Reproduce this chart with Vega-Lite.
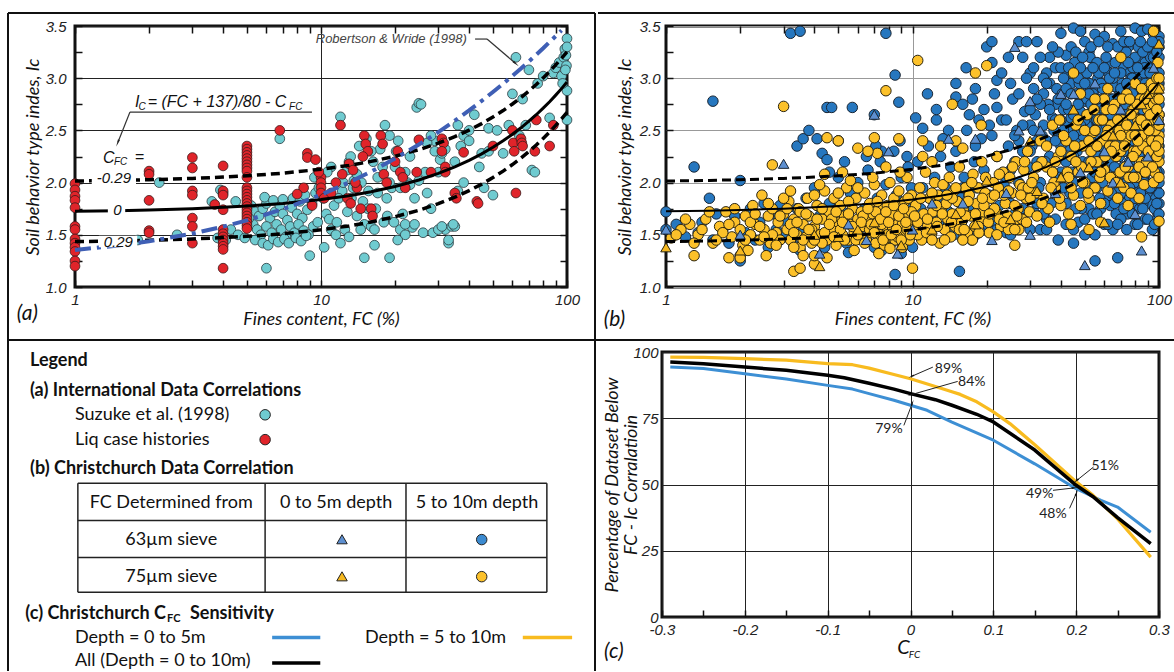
{
"$schema":"https://vega.github.io/schema/vega-lite/v6.json",
"background":"white",
"padding":{"left":5,"top":10,"right":0,"bottom":0},
"spacing":-6,
"resolve":{"scale":{"color":"independent","shape":"independent","size":"independent","strokeWidth":"independent"}},
"config":{"view":{"stroke":null},
 "axis":{"domain":false,"tickSize":-7,"tickColor":"#111","tickWidth":1.5,"labelFont":"Liberation Sans","labelFontStyle":"italic","labelFontSize":15,"labelColor":"#222","titleFont":"Lato","titleFontStyle":"italic","titleFontWeight":"normal","titleFontSize":18,"titleColor":"#111","gridColor":"#222","gridWidth":1}},
"datasets":{
"suzuki":[{"fc":5.2,"ic":1.78},{"fc":5.4,"ic":1.72},{"fc":5.6,"ic":1.68},{"fc":5.8,"ic":1.75},{"fc":6.0,"ic":1.8},{"fc":6.2,"ic":1.66},{"fc":6.5,"ic":1.72},{"fc":6.8,"ic":1.78},{"fc":7.0,"ic":1.7},{"fc":7.3,"ic":1.64},{"fc":7.6,"ic":1.76},{"fc":8.0,"ic":1.7},{"fc":8.4,"ic":1.66},{"fc":8.8,"ic":1.74},{"fc":9.2,"ic":1.8},{"fc":5.3,"ic":1.6},{"fc":5.5,"ic":1.55},{"fc":5.7,"ic":1.5},{"fc":6.0,"ic":1.58},{"fc":6.3,"ic":1.52},{"fc":6.6,"ic":1.6},{"fc":6.9,"ic":1.55},{"fc":7.2,"ic":1.48},{"fc":7.5,"ic":1.58},{"fc":7.8,"ic":1.52},{"fc":8.1,"ic":1.6},{"fc":8.5,"ic":1.54},{"fc":8.9,"ic":1.5},{"fc":9.3,"ic":1.58},{"fc":9.7,"ic":1.62},{"fc":5.4,"ic":1.45},{"fc":5.8,"ic":1.42},{"fc":6.1,"ic":1.4},{"fc":6.4,"ic":1.46},{"fc":6.7,"ic":1.43},{"fc":7.1,"ic":1.46},{"fc":7.4,"ic":1.42},{"fc":7.9,"ic":1.47},{"fc":8.3,"ic":1.44},{"fc":8.7,"ic":1.49},{"fc":9.0,"ic":1.3},{"fc":6.0,"ic":1.18},{"fc":5.1,"ic":1.66},{"fc":5.9,"ic":1.86},{"fc":6.4,"ic":1.83},{"fc":7.0,"ic":1.84},{"fc":7.7,"ic":1.85},{"fc":8.2,"ic":1.82},{"fc":8.6,"ic":1.88},{"fc":9.5,"ic":1.9},{"fc":6.8,"ic":2.42},{"fc":9.4,"ic":2.05},{"fc":9.8,"ic":1.95},{"fc":10.2,"ic":1.85},{"fc":10.5,"ic":1.7},{"fc":10.8,"ic":1.65},{"fc":11.0,"ic":1.55},{"fc":11.3,"ic":1.78},{"fc":11.6,"ic":1.62},{"fc":12.0,"ic":2.63},{"fc":12.2,"ic":1.92},{"fc":12.5,"ic":1.55},{"fc":12.8,"ic":1.72},{"fc":13.0,"ic":2.2},{"fc":13.3,"ic":1.85},{"fc":13.6,"ic":2.02},{"fc":14.0,"ic":1.68},{"fc":14.3,"ic":2.35},{"fc":14.6,"ic":2.0},{"fc":15.0,"ic":1.6},{"fc":15.3,"ic":2.42},{"fc":15.6,"ic":1.92},{"fc":16.0,"ic":1.58},{"fc":16.3,"ic":2.2},{"fc":16.7,"ic":1.75},{"fc":17.0,"ic":2.05},{"fc":17.4,"ic":2.32},{"fc":17.8,"ic":2.15},{"fc":18.2,"ic":2.55},{"fc":18.6,"ic":1.68},{"fc":19.0,"ic":2.45},{"fc":19.4,"ic":1.95},{"fc":19.8,"ic":1.62},{"fc":20.2,"ic":2.3},{"fc":20.6,"ic":2.4},{"fc":21.0,"ic":1.55},{"fc":21.5,"ic":1.7},{"fc":22.0,"ic":1.5},{"fc":22.5,"ic":2.0},{"fc":23.0,"ic":2.25},{"fc":23.5,"ic":1.57},{"fc":24.0,"ic":1.85},{"fc":24.5,"ic":2.72},{"fc":25.0,"ic":2.76},{"fc":25.5,"ic":2.75},{"fc":26.0,"ic":1.52},{"fc":26.5,"ic":2.1},{"fc":27.0,"ic":1.9},{"fc":28.0,"ic":1.75},{"fc":28.5,"ic":1.52},{"fc":29.0,"ic":2.4},{"fc":30.0,"ic":2.1},{"fc":30.5,"ic":2.22},{"fc":31.0,"ic":2.28},{"fc":32.0,"ic":1.55},{"fc":33.0,"ic":1.42},{"fc":34.0,"ic":1.58},{"fc":35.0,"ic":1.58},{"fc":36.0,"ic":1.92},{"fc":37.0,"ic":2.35},{"fc":38.0,"ic":2.45},{"fc":40.0,"ic":2.4},{"fc":42.0,"ic":2.65},{"fc":44.0,"ic":2.15},{"fc":46.0,"ic":1.95},{"fc":48.0,"ic":2.52},{"fc":50.0,"ic":1.88},{"fc":52.0,"ic":2.5},{"fc":55.0,"ic":2.28},{"fc":58.0,"ic":2.55},{"fc":60.0,"ic":2.85},{"fc":62.0,"ic":3.2},{"fc":64.0,"ic":2.45},{"fc":66.0,"ic":2.8},{"fc":68.0,"ic":2.55},{"fc":70.0,"ic":3.08},{"fc":72.0,"ic":2.12},{"fc":74.0,"ic":2.1},{"fc":76.0,"ic":2.95},{"fc":80.0,"ic":3.02},{"fc":85.0,"ic":2.62},{"fc":88.0,"ic":3.05},{"fc":90.0,"ic":3.1},{"fc":93.0,"ic":3.15},{"fc":95.0,"ic":3.02},{"fc":97.0,"ic":3.2},{"fc":98.0,"ic":3.28},{"fc":99.0,"ic":3.22},{"fc":100,"ic":3.38},{"fc":100,"ic":3.3},{"fc":99.5,"ic":3.12},{"fc":98.5,"ic":3.08},{"fc":100,"ic":2.88},{"fc":100,"ic":2.6},{"fc":96,"ic":2.95},{"fc":11.5,"ic":1.5},{"fc":13,"ic":1.48},{"fc":14.5,"ic":1.55},{"fc":16.5,"ic":1.4},{"fc":15,"ic":1.28},{"fc":19,"ic":1.28},{"fc":18,"ic":1.62},{"fc":12,"ic":1.42},{"fc":10.3,"ic":1.38},{"fc":20.5,"ic":1.45},{"fc":22,"ic":1.6},{"fc":16.5,"ic":1.55},{"fc":24,"ic":1.6},{"fc":30,"ic":1.55},{"fc":31,"ic":1.58},{"fc":34.5,"ic":1.6},{"fc":33,"ic":1.45},{"fc":2.2,"ic":2.0},{"fc":2.6,"ic":1.5},{"fc":1.8,"ic":1.45},{"fc":3.6,"ic":1.82},{"fc":3.9,"ic":1.93},{"fc":4.0,"ic":1.9},{"fc":4.3,"ic":1.55},{"fc":4.6,"ic":1.5},{"fc":3.8,"ic":1.47},{"fc":4.9,"ic":1.47},{"fc":4.1,"ic":1.45},{"fc":4.5,"ic":1.82},{"fc":13.5,"ic":1.95},{"fc":14,"ic":2.08},{"fc":14.8,"ic":1.82},{"fc":15.5,"ic":1.75},{"fc":12.8,"ic":2.12},{"fc":13.2,"ic":2.25},{"fc":11,"ic":2.15},{"fc":12.3,"ic":2.0},{"fc":11.8,"ic":1.85},{"fc":10.6,"ic":2.1},{"fc":16,"ic":2.3},{"fc":17,"ic":1.9},{"fc":18.5,"ic":1.85},{"fc":19,"ic":2.0},{"fc":20,"ic":2.15},{"fc":21,"ic":1.95},{"fc":22,"ic":2.1},{"fc":23,"ic":1.98},{"fc":25,"ic":2.02},{"fc":27,"ic":2.38},{"fc":28,"ic":2.45},{"fc":29,"ic":2.3},{"fc":32,"ic":2.32},{"fc":35,"ic":2.2},{"fc":36,"ic":2.55},{"fc":38,"ic":2.0},{"fc":40,"ic":2.5},{"fc":45,"ic":2.28},{"fc":48,"ic":2.3}],
"liq":[{"fc":1,"ic":1.99},{"fc":1,"ic":1.93},{"fc":1,"ic":1.87},{"fc":1,"ic":1.83},{"fc":1,"ic":1.76},{"fc":1,"ic":1.58},{"fc":1,"ic":1.55},{"fc":1,"ic":1.46},{"fc":1,"ic":1.42},{"fc":1,"ic":1.38},{"fc":1,"ic":1.34},{"fc":1,"ic":1.25},{"fc":1,"ic":1.2},{"fc":2,"ic":2.11},{"fc":2,"ic":2.08},{"fc":2,"ic":1.83},{"fc":2,"ic":1.54},{"fc":2,"ic":1.52},{"fc":3,"ic":2.24},{"fc":3,"ic":2.14},{"fc":3,"ic":1.92},{"fc":3,"ic":1.88},{"fc":3,"ic":1.66},{"fc":3,"ic":1.58},{"fc":3,"ic":1.42},{"fc":4,"ic":2.16},{"fc":4,"ic":1.92},{"fc":4,"ic":1.88},{"fc":4,"ic":1.74},{"fc":4,"ic":1.55},{"fc":4,"ic":1.51},{"fc":4,"ic":1.48},{"fc":4,"ic":1.45},{"fc":4,"ic":1.42},{"fc":4,"ic":1.39},{"fc":4,"ic":1.36},{"fc":4,"ic":1.18},{"fc":5,"ic":2.35},{"fc":5,"ic":2.32},{"fc":5,"ic":2.29},{"fc":5,"ic":2.26},{"fc":5,"ic":2.23},{"fc":5,"ic":2.2},{"fc":5,"ic":2.17},{"fc":5,"ic":2.14},{"fc":5,"ic":2.11},{"fc":5,"ic":2.05},{"fc":5,"ic":1.95},{"fc":5,"ic":1.92},{"fc":5,"ic":1.89},{"fc":5,"ic":1.86},{"fc":5,"ic":1.83},{"fc":5,"ic":1.8},{"fc":5,"ic":1.77},{"fc":5,"ic":1.74},{"fc":5,"ic":1.71},{"fc":5,"ic":1.68},{"fc":5,"ic":1.65},{"fc":5,"ic":1.62},{"fc":5,"ic":1.59},{"fc":5,"ic":1.56},{"fc":3.7,"ic":1.79},{"fc":6.8,"ic":2.5},{"fc":8.8,"ic":2.28},{"fc":8.8,"ic":2.24},{"fc":8.5,"ic":1.95},{"fc":8,"ic":1.89},{"fc":9.5,"ic":2.22},{"fc":10,"ic":2.05},{"fc":10,"ic":2.0},{"fc":10,"ic":1.95},{"fc":10,"ic":1.9},{"fc":10.3,"ic":1.85},{"fc":9.2,"ic":1.78},{"fc":12,"ic":2.55},{"fc":12.2,"ic":2.08},{"fc":13,"ic":2.18},{"fc":13.5,"ic":2.12},{"fc":14,"ic":1.95},{"fc":12.8,"ic":1.85},{"fc":13.2,"ic":1.8},{"fc":14.5,"ic":1.75},{"fc":15,"ic":2.45},{"fc":15.2,"ic":2.37},{"fc":15.5,"ic":2.3},{"fc":14.8,"ic":2.25},{"fc":16,"ic":1.75},{"fc":16.2,"ic":1.68},{"fc":17.5,"ic":2.45},{"fc":17.8,"ic":2.37},{"fc":18,"ic":2.08},{"fc":18.5,"ic":2.0},{"fc":20.5,"ic":2.3},{"fc":21,"ic":2.1},{"fc":21.5,"ic":2.05},{"fc":25,"ic":2.41},{"fc":24.5,"ic":2.1},{"fc":28,"ic":2.1},{"fc":31,"ic":2.42},{"fc":31.5,"ic":2.38},{"fc":31,"ic":2.3},{"fc":32,"ic":2.15},{"fc":32,"ic":2.1},{"fc":35,"ic":1.9},{"fc":35.5,"ic":1.85},{"fc":38,"ic":2.29},{"fc":43,"ic":1.82},{"fc":43.5,"ic":1.8},{"fc":50,"ic":2.35},{"fc":60,"ic":2.5},{"fc":60.5,"ic":2.38},{"fc":61,"ic":2.3},{"fc":62,"ic":1.9},{"fc":65,"ic":2.42},{"fc":65.5,"ic":2.38},{"fc":66,"ic":2.35},{"fc":75,"ic":2.6},{"fc":74,"ic":2.3},{"fc":85,"ic":2.35},{"fc":88,"ic":2.55},{"fc":11,"ic":1.9},{"fc":11.5,"ic":2.0},{"fc":9.8,"ic":2.1},{"fc":13.8,"ic":2.0},{"fc":22,"ic":1.95},{"fc":20,"ic":2.2}],
"icurves":[{"fc":1,"mid":1.725,"upper":2.015,"lower":1.435},{"fc":1.5,"mid":1.731,"upper":2.021,"lower":1.441},{"fc":2,"mid":1.738,"upper":2.028,"lower":1.448},{"fc":3,"mid":1.75,"upper":2.04,"lower":1.46},{"fc":4,"mid":1.763,"upper":2.053,"lower":1.473},{"fc":5,"mid":1.775,"upper":2.065,"lower":1.485},{"fc":7,"mid":1.8,"upper":2.09,"lower":1.51},{"fc":10,"mid":1.838,"upper":2.128,"lower":1.548},{"fc":13,"mid":1.875,"upper":2.165,"lower":1.585},{"fc":16,"mid":1.913,"upper":2.203,"lower":1.623},{"fc":20,"mid":1.963,"upper":2.253,"lower":1.673},{"fc":25,"mid":2.025,"upper":2.315,"lower":1.735},{"fc":30,"mid":2.088,"upper":2.378,"lower":1.798},{"fc":35,"mid":2.15,"upper":2.44,"lower":1.86},{"fc":40,"mid":2.213,"upper":2.503,"lower":1.923},{"fc":45,"mid":2.275,"upper":2.565,"lower":1.985},{"fc":50,"mid":2.338,"upper":2.628,"lower":2.048},{"fc":55,"mid":2.4,"upper":2.69,"lower":2.11},{"fc":60,"mid":2.463,"upper":2.753,"lower":2.173},{"fc":65,"mid":2.525,"upper":2.815,"lower":2.235},{"fc":70,"mid":2.588,"upper":2.878,"lower":2.298},{"fc":75,"mid":2.65,"upper":2.94,"lower":2.36},{"fc":80,"mid":2.713,"upper":3.003,"lower":2.423},{"fc":85,"mid":2.775,"upper":3.065,"lower":2.485},{"fc":90,"mid":2.838,"upper":3.128,"lower":2.548},{"fc":95,"mid":2.9,"upper":3.19,"lower":2.61},{"fc":100,"mid":2.963,"upper":3.253,"lower":2.673}],
"rw":[{"fc":1,"ic":1.355},{"fc":1.5,"ic":1.398},{"fc":2,"ic":1.438},{"fc":3,"ic":1.511},{"fc":4,"ic":1.578},{"fc":5,"ic":1.638},{"fc":7,"ic":1.746},{"fc":10,"ic":1.884},{"fc":13,"ic":2.002},{"fc":16,"ic":2.106},{"fc":20,"ic":2.23},{"fc":25,"ic":2.365},{"fc":30,"ic":2.484},{"fc":35,"ic":2.593},{"fc":40,"ic":2.691},{"fc":45,"ic":2.783},{"fc":50,"ic":2.868},{"fc":55,"ic":2.947},{"fc":60,"ic":3.023},{"fc":65,"ic":3.093},{"fc":70,"ic":3.161},{"fc":75,"ic":3.226},{"fc":80,"ic":3.287},{"fc":85,"ic":3.347},{"fc":90,"ic":3.403},{"fc":95,"ic":3.458}],
"a_boxes":[{"fc":1.17,"fc2":1.77,"ic":1.985,"ic2":2.1},{"fc":1.36,"fc2":1.6,"ic":1.68,"ic2":1.8},{"fc":1.25,"fc2":1.79,"ic":1.38,"ic2":1.49}],
"a_cfc":[{"fc":1.44,"ic":2.044,"text":"-0.29"},{"fc":1.488,"ic":1.738,"text":"0"},{"fc":1.5,"ic":1.434,"text":"0.29"}],
"a_eq":[{"fc":1.753,"ic":2.772,"text":"I"},{"fc":1.975,"ic":2.772,"text":"= (FC + 137)/80 - C"},{"fc":1.3,"ic":2.236,"text":"C"},{"fc":1.75,"ic":2.245,"text":"="}],
"a_sub":[{"fc":1.812,"ic":2.727,"text":"C"},{"fc":7.42,"ic":2.727,"text":"FC"},{"fc":1.44,"ic":2.197,"text":"FC"}],
"a_note":[{"fc":19.3,"ic":3.375,"text":"Robertson & Wride (1998)"}],
"a_leaders":[{"fc":42.3,"ic":3.375,"fc2":47.3,"ic2":3.375},{"fc":47.3,"ic":3.375,"fc2":61.5,"ic2":3.146},{"fc":9.19,"ic":2.676,"fc2":1.673,"ic2":2.676},{"fc":1.673,"ic":2.676,"fc2":1.496,"ic2":2.389}],
"a_heads":[{"fc":61.5,"ic":3.146,"angle":131},{"fc":1.496,"ic":2.389,"angle":202}],
"b63deep":[{"fc":1.0,"ic":1.72},{"fc":1.0,"ic":1.55},{"fc":1.3,"ic":2.15},{"fc":1.35,"ic":1.52},{"fc":1.5,"ic":1.85},{"fc":1.55,"ic":2.78},{"fc":1.55,"ic":1.45},{"fc":2.0,"ic":2.02},{"fc":2.0,"ic":1.25},{"fc":2.5,"ic":1.8},{"fc":3.2,"ic":3.43},{"fc":3.5,"ic":3.45},{"fc":3.4,"ic":2.35},{"fc":3.6,"ic":2.42},{"fc":3.8,"ic":2.5},{"fc":4.1,"ic":2.42},{"fc":4.3,"ic":2.28},{"fc":4.5,"ic":2.72},{"fc":4.7,"ic":2.72},{"fc":4.5,"ic":2.22},{"fc":5.0,"ic":2.4},{"fc":5.7,"ic":2.72},{"fc":6.5,"ic":2.25},{"fc":7,"ic":2.65},{"fc":7.5,"ic":2.3},{"fc":7.8,"ic":3.43},{"fc":8.5,"ic":3.03},{"fc":8.8,"ic":2.77},{"fc":8.5,"ic":1.12},{"fc":9.5,"ic":2.25},{"fc":10.3,"ic":2.62},{"fc":11,"ic":2.52},{"fc":11.5,"ic":2.85},{"fc":12.5,"ic":2.6},{"fc":13,"ic":2.25},{"fc":14,"ic":2.5},{"fc":15,"ic":2.82},{"fc":15.5,"ic":1.15},{"fc":17,"ic":2.65},{"fc":18,"ic":2.9},{"fc":19,"ic":2.42},{"fc":20,"ic":3.3},{"fc":21,"ic":3.35},{"fc":21,"ic":3.15},{"fc":22,"ic":2.98},{"fc":22,"ic":2.72},{"fc":25,"ic":2.95},{"fc":27,"ic":3.35},{"fc":28,"ic":3.2},{"fc":29,"ic":3.35},{"fc":32,"ic":3.35},{"fc":30,"ic":3.05},{"fc":35,"ic":3.05},{"fc":38,"ic":3.1},{"fc":40,"ic":3.43},{"fc":42,"ic":3.22},{"fc":45,"ic":3.48},{"fc":48,"ic":3.45},{"fc":50,"ic":3.35},{"fc":52,"ic":3.25},{"fc":55,"ic":3.42},{"fc":60,"ic":3.4},{"fc":63,"ic":3.15},{"fc":65,"ic":3.33},{"fc":70,"ic":3.45},{"fc":75,"ic":3.3},{"fc":80,"ic":3.48},{"fc":85,"ic":3.45},{"fc":90,"ic":3.47},{"fc":95,"ic":3.42},{"fc":100,"ic":3.4},{"fc":55,"ic":1.25},{"fc":68,"ic":1.28},{"fc":45,"ic":1.42},{"fc":30,"ic":1.55},{"fc":1.1,"ic":1.6},{"fc":1.2,"ic":1.48},{"fc":1.4,"ic":1.62},{"fc":1.6,"ic":1.7},{"fc":1.7,"ic":1.55},{"fc":1.8,"ic":1.42},{"fc":1.9,"ic":1.68},{"fc":2.1,"ic":1.52},{"fc":2.2,"ic":1.75},{"fc":2.3,"ic":1.45},{"fc":2.4,"ic":1.62},{"fc":2.6,"ic":1.38},{"fc":2.7,"ic":1.7},{"fc":2.8,"ic":1.55},{"fc":2.9,"ic":1.78},{"fc":3.0,"ic":1.48},{"fc":3.1,"ic":1.62},{"fc":3.3,"ic":1.4},{"fc":3.4,"ic":1.75},{"fc":3.6,"ic":1.55},{"fc":3.7,"ic":1.85},{"fc":3.9,"ic":1.45},{"fc":4.0,"ic":1.95},{"fc":4.2,"ic":1.68},{"fc":4.4,"ic":1.38},{"fc":4.6,"ic":1.8},{"fc":4.8,"ic":1.52},{"fc":5.0,"ic":2.05},{"fc":5.2,"ic":1.72},{"fc":5.4,"ic":1.42},{"fc":5.6,"ic":1.9},{"fc":5.8,"ic":1.6},{"fc":6.0,"ic":2.0},{"fc":4.6,"ic":2.1},{"fc":5.3,"ic":2.2},{"fc":6.2,"ic":1.48},{"fc":6.4,"ic":1.75},{"fc":6.6,"ic":2.12},{"fc":6.8,"ic":1.62},{"fc":7.0,"ic":1.38},{"fc":7.2,"ic":1.85},{"fc":7.4,"ic":2.2},{"fc":7.6,"ic":1.55},{"fc":7.8,"ic":1.98},{"fc":8.0,"ic":1.72},{"fc":8.2,"ic":1.42},{"fc":8.4,"ic":2.3},{"fc":8.6,"ic":1.88},{"fc":8.8,"ic":1.6},{"fc":9.0,"ic":2.05},{"fc":9.2,"ic":1.5},{"fc":9.4,"ic":1.8},{"fc":9.6,"ic":2.15},{"fc":9.8,"ic":1.68},{"fc":7.1,"ic":2.35},{"fc":8.9,"ic":2.4},{"fc":9.9,"ic":1.95},{"fc":10.2,"ic":1.55},{"fc":10.5,"ic":2.2},{"fc":10.8,"ic":1.75},{"fc":11.0,"ic":1.95},{"fc":11.3,"ic":1.48},{"fc":11.6,"ic":2.35},{"fc":12.0,"ic":1.68},{"fc":12.3,"ic":2.05},{"fc":12.6,"ic":1.85},{"fc":13.0,"ic":1.58},{"fc":13.3,"ic":2.42},{"fc":13.6,"ic":1.95},{"fc":14.0,"ic":1.72},{"fc":14.3,"ic":2.15},{"fc":14.7,"ic":1.5},{"fc":15.0,"ic":2.3},{"fc":15.4,"ic":1.88},{"fc":15.8,"ic":1.62},{"fc":16.2,"ic":2.05},{"fc":16.6,"ic":2.5},{"fc":17.0,"ic":1.78},{"fc":17.4,"ic":1.45},{"fc":17.8,"ic":2.2},{"fc":18.2,"ic":1.95},{"fc":18.6,"ic":2.6},{"fc":19.0,"ic":1.7},{"fc":19.5,"ic":2.12},{"fc":19.8,"ic":1.55},{"fc":12.5,"ic":2.7},{"fc":16,"ic":2.75},{"fc":18,"ic":2.35},{"fc":20.5,"ic":1.88},{"fc":21,"ic":2.45},{"fc":21.5,"ic":1.62},{"fc":22,"ic":2.25},{"fc":22.5,"ic":1.78},{"fc":23,"ic":2.6},{"fc":23.5,"ic":1.98},{"fc":24,"ic":1.52},{"fc":24.5,"ic":2.35},{"fc":25,"ic":2.12},{"fc":25.5,"ic":2.8},{"fc":26,"ic":1.7},{"fc":26.5,"ic":2.5},{"fc":27,"ic":2.0},{"fc":27.5,"ic":1.6},{"fc":28,"ic":2.3},{"fc":28.5,"ic":2.68},{"fc":29,"ic":1.85},{"fc":29.5,"ic":2.15},{"fc":30,"ic":2.55},{"fc":31,"ic":1.72},{"fc":32,"ic":2.4},{"fc":33,"ic":2.0},{"fc":34,"ic":2.85},{"fc":35,"ic":1.65},{"fc":36,"ic":2.25},{"fc":37,"ic":2.62},{"fc":38,"ic":1.9},{"fc":39,"ic":2.45},{"fc":40,"ic":2.1},{"fc":34,"ic":3.0},{"fc":36,"ic":2.95},{"fc":38,"ic":2.75},{"fc":31,"ic":2.9},{"fc":33,"ic":1.55},{"fc":39,"ic":1.45},{"fc":41,"ic":2.7},{"fc":42,"ic":1.8},{"fc":43,"ic":2.35},{"fc":44,"ic":2.95},{"fc":45,"ic":2.0},{"fc":46,"ic":2.55},{"fc":47,"ic":1.62},{"fc":48,"ic":2.8},{"fc":49,"ic":2.2},{"fc":50,"ic":2.45},{"fc":51,"ic":3.05},{"fc":52,"ic":1.75},{"fc":53,"ic":2.6},{"fc":54,"ic":2.3},{"fc":55,"ic":2.9},{"fc":56,"ic":1.95},{"fc":57,"ic":2.7},{"fc":58,"ic":2.15},{"fc":59,"ic":3.1},{"fc":60,"ic":2.5},{"fc":61,"ic":1.85},{"fc":62,"ic":2.78},{"fc":63,"ic":2.35},{"fc":64,"ic":3.0},{"fc":65,"ic":2.05},{"fc":66,"ic":2.6},{"fc":67,"ic":1.7},{"fc":68,"ic":2.9},{"fc":69,"ic":2.25},{"fc":70,"ic":2.75},{"fc":42,"ic":2.55},{"fc":44,"ic":2.62},{"fc":46,"ic":2.7},{"fc":48,"ic":2.68},{"fc":50,"ic":2.78},{"fc":52,"ic":2.6},{"fc":54,"ic":2.85},{"fc":56,"ic":2.4},{"fc":58,"ic":2.72},{"fc":60,"ic":2.9},{"fc":62,"ic":2.55},{"fc":64,"ic":2.8},{"fc":66,"ic":2.92},{"fc":68,"ic":2.7},{"fc":45,"ic":1.55},{"fc":50,"ic":1.65},{"fc":55,"ic":1.5},{"fc":60,"ic":1.6},{"fc":65,"ic":1.55},{"fc":71,"ic":2.4},{"fc":72,"ic":3.1},{"fc":73,"ic":1.9},{"fc":74,"ic":2.65},{"fc":75,"ic":2.95},{"fc":76,"ic":2.2},{"fc":77,"ic":2.8},{"fc":78,"ic":1.8},{"fc":79,"ic":3.05},{"fc":80,"ic":2.5},{"fc":81,"ic":2.85},{"fc":82,"ic":2.1},{"fc":83,"ic":3.2},{"fc":84,"ic":2.6},{"fc":85,"ic":1.95},{"fc":86,"ic":2.9},{"fc":87,"ic":2.35},{"fc":88,"ic":3.15},{"fc":89,"ic":2.7},{"fc":90,"ic":2.0},{"fc":91,"ic":3.0},{"fc":92,"ic":2.45},{"fc":93,"ic":3.25},{"fc":94,"ic":1.85},{"fc":95,"ic":2.8},{"fc":96,"ic":2.25},{"fc":97,"ic":3.1},{"fc":98,"ic":2.55},{"fc":99,"ic":1.7},{"fc":100,"ic":2.95},{"fc":100,"ic":2.35},{"fc":100,"ic":3.2},{"fc":100,"ic":1.8},{"fc":99,"ic":2.1},{"fc":98,"ic":2.85},{"fc":97,"ic":1.95},{"fc":96,"ic":3.3},{"fc":95,"ic":2.6},{"fc":94,"ic":2.4},{"fc":92,"ic":2.75},{"fc":90,"ic":2.9},{"fc":88,"ic":1.65},{"fc":86,"ic":2.5},{"fc":84,"ic":3.0},{"fc":82,"ic":2.7},{"fc":80,"ic":1.6},{"fc":78,"ic":2.55},{"fc":76,"ic":3.05},{"fc":74,"ic":2.3},{"fc":30.5,"ic":2.35},{"fc":31.5,"ic":2.65},{"fc":32.5,"ic":1.95},{"fc":33.5,"ic":2.45},{"fc":34.5,"ic":2.2},{"fc":35.5,"ic":2.75},{"fc":36.5,"ic":1.8},{"fc":37.5,"ic":2.5},{"fc":38.5,"ic":2.9},{"fc":39.5,"ic":2.05},{"fc":40.5,"ic":2.85},{"fc":41.5,"ic":2.25},{"fc":42.5,"ic":3.05},{"fc":43.5,"ic":1.9},{"fc":44.5,"ic":2.45},{"fc":45.5,"ic":3.15},{"fc":46.5,"ic":2.3},{"fc":47.5,"ic":2.95},{"fc":48.5,"ic":1.75},{"fc":49.5,"ic":2.6},{"fc":51.5,"ic":2.15},{"fc":52.5,"ic":3.2},{"fc":53.5,"ic":2.05},{"fc":54.5,"ic":2.65},{"fc":55.5,"ic":2.35},{"fc":56.5,"ic":3.0},{"fc":57.5,"ic":1.85},{"fc":58.5,"ic":2.5},{"fc":59.5,"ic":2.8},{"fc":61.5,"ic":2.25},{"fc":62.5,"ic":3.05},{"fc":63.5,"ic":1.78},{"fc":64.5,"ic":2.45},{"fc":65.5,"ic":2.7},{"fc":66.5,"ic":3.15},{"fc":67.5,"ic":2.0},{"fc":68.5,"ic":2.55},{"fc":69.5,"ic":2.85},{"fc":71.5,"ic":2.15},{"fc":72.5,"ic":2.6},{"fc":73.5,"ic":3.25},{"fc":74.5,"ic":1.7},{"fc":76.5,"ic":2.75},{"fc":77.5,"ic":2.35},{"fc":78.5,"ic":3.1},{"fc":79.5,"ic":2.0},{"fc":81.5,"ic":2.55},{"fc":82.5,"ic":3.3},{"fc":83.5,"ic":1.75},{"fc":84.5,"ic":2.4},{"fc":86.5,"ic":2.05},{"fc":87.5,"ic":3.1},{"fc":88.5,"ic":2.5},{"fc":89.5,"ic":1.9},{"fc":91.5,"ic":2.6},{"fc":92.5,"ic":3.2},{"fc":93.5,"ic":2.15},{"fc":94.5,"ic":2.95},{"fc":96.5,"ic":2.45},{"fc":97.5,"ic":3.35},{"fc":98.5,"ic":1.65},{"fc":99.5,"ic":2.75},{"fc":100,"ic":2.5},{"fc":100,"ic":3.05},{"fc":100,"ic":2.1},{"fc":100,"ic":1.9},{"fc":100,"ic":3.3},{"fc":2.0,"ic":1.3},{"fc":3.5,"ic":1.35},{"fc":5.5,"ic":1.33},{"fc":7.5,"ic":1.35},{"fc":9.0,"ic":1.32},{"fc":10,"ic":1.38},{"fc":30,"ic":2.7},{"fc":31,"ic":3.1},{"fc":32,"ic":2.2},{"fc":33,"ic":2.75},{"fc":34,"ic":1.7},{"fc":35,"ic":2.4},{"fc":36,"ic":3.2},{"fc":37,"ic":2.1},{"fc":38,"ic":2.6},{"fc":39,"ic":3.25},{"fc":40,"ic":2.35},{"fc":41,"ic":1.95},{"fc":42,"ic":2.9},{"fc":43,"ic":2.5},{"fc":44,"ic":3.3},{"fc":45,"ic":2.65},{"fc":46,"ic":2.1},{"fc":47,"ic":3.0},{"fc":48,"ic":2.4},{"fc":49,"ic":2.85},{"fc":50,"ic":2.15},{"fc":51,"ic":2.55},{"fc":52,"ic":2.95},{"fc":53,"ic":3.3},{"fc":54,"ic":1.95},{"fc":55,"ic":2.65},{"fc":56,"ic":3.15},{"fc":57,"ic":2.25},{"fc":58,"ic":2.95},{"fc":59,"ic":2.0},{"fc":60,"ic":2.7},{"fc":61,"ic":3.2},{"fc":62,"ic":2.1},{"fc":63,"ic":2.65},{"fc":64,"ic":2.2},{"fc":65,"ic":3.0},{"fc":66,"ic":2.3},{"fc":67,"ic":2.8},{"fc":68,"ic":3.3},{"fc":69,"ic":1.95},{"fc":70,"ic":2.5},{"fc":71,"ic":2.95},{"fc":72,"ic":2.3},{"fc":73,"ic":2.75},{"fc":74,"ic":3.35},{"fc":75,"ic":2.45},{"fc":76,"ic":1.85},{"fc":77,"ic":3.0},{"fc":78,"ic":2.25},{"fc":79,"ic":2.6},{"fc":80,"ic":3.2},{"fc":81,"ic":1.9},{"fc":82,"ic":2.4},{"fc":83,"ic":2.9},{"fc":84,"ic":2.15},{"fc":85,"ic":2.7},{"fc":86,"ic":3.25},{"fc":87,"ic":2.0},{"fc":88,"ic":2.45},{"fc":89,"ic":3.0},{"fc":90,"ic":2.55},{"fc":91,"ic":1.8},{"fc":92,"ic":2.35},{"fc":93,"ic":2.65},{"fc":94,"ic":3.1},{"fc":95,"ic":2.2},{"fc":96,"ic":2.9},{"fc":97,"ic":2.4},{"fc":98,"ic":3.15},{"fc":99,"ic":2.6},{"fc":100,"ic":2.75},{"fc":100,"ic":2.0},{"fc":100,"ic":3.35},{"fc":100,"ic":2.25},{"fc":99,"ic":2.95},{"fc":98,"ic":2.1},{"fc":97,"ic":2.65},{"fc":96,"ic":1.75},{"fc":95,"ic":3.2},{"fc":94,"ic":2.6},{"fc":93,"ic":1.95},{"fc":92,"ic":2.85},{"fc":91,"ic":2.25},{"fc":90,"ic":3.3},{"fc":89,"ic":2.1},{"fc":88,"ic":2.75},{"fc":87,"ic":3.05},{"fc":86,"ic":1.8},{"fc":85,"ic":2.3},{"fc":84,"ic":2.55},{"fc":83,"ic":2.25},{"fc":82,"ic":3.1},{"fc":81,"ic":2.45},{"fc":80,"ic":2.1},{"fc":79,"ic":2.4},{"fc":78,"ic":3.0},{"fc":77,"ic":2.1},{"fc":76,"ic":2.6},{"fc":75,"ic":3.15},{"fc":74,"ic":2.0},{"fc":73,"ic":2.5},{"fc":72,"ic":2.8},{"fc":71,"ic":1.8},{"fc":70,"ic":3.05},{"fc":69,"ic":2.4},{"fc":68,"ic":2.05},{"fc":67,"ic":2.5},{"fc":66,"ic":2.15},{"fc":65,"ic":2.8},{"fc":64,"ic":2.5},{"fc":63,"ic":3.0},{"fc":62,"ic":2.35},{"fc":61,"ic":2.55},{"fc":60,"ic":2.25},{"fc":59,"ic":2.6},{"fc":58,"ic":2.35},{"fc":57,"ic":3.05},{"fc":56,"ic":2.6},{"fc":55,"ic":2.1},{"fc":54,"ic":2.7},{"fc":53,"ic":2.4},{"fc":52,"ic":2.2},{"fc":51,"ic":2.8},{"fc":50,"ic":2.6},{"fc":49,"ic":2.45},{"fc":48,"ic":3.1},{"fc":47,"ic":2.5},{"fc":46,"ic":2.85},{"fc":45,"ic":2.25},{"fc":44,"ic":2.1},{"fc":43,"ic":2.7},{"fc":42,"ic":2.2},{"fc":41,"ic":3.0},{"fc":40,"ic":2.6},{"fc":20,"ic":1.6},{"fc":22,"ic":1.9},{"fc":24,"ic":2.05},{"fc":26,"ic":2.2},{"fc":28,"ic":1.75},{"fc":18,"ic":1.5},{"fc":16,"ic":1.95},{"fc":14,"ic":1.6},{"fc":25,"ic":1.5},{"fc":27,"ic":2.4},{"fc":15,"ic":2.95},{"fc":16.5,"ic":3.1},{"fc":17.5,"ic":2.8},{"fc":19.5,"ic":2.7},{"fc":20.5,"ic":2.55},{"fc":21.5,"ic":2.85},{"fc":23,"ic":3.05},{"fc":24,"ic":2.6},{"fc":24.5,"ic":3.2},{"fc":26,"ic":2.45},{"fc":27,"ic":2.85},{"fc":28,"ic":2.55},{"fc":29,"ic":3.0},{"fc":30,"ic":2.3},{"fc":31,"ic":2.5},{"fc":32,"ic":2.8},{"fc":33,"ic":3.2},{"fc":34,"ic":2.55},{"fc":35,"ic":2.95},{"fc":36,"ic":2.7},{"fc":37,"ic":3.3},{"fc":38,"ic":2.4},{"fc":39,"ic":2.8},{"fc":40,"ic":3.1},{"fc":41,"ic":2.5},{"fc":42,"ic":2.75},{"fc":43,"ic":3.1},{"fc":44,"ic":2.85},{"fc":45,"ic":2.45},{"fc":46,"ic":3.25},{"fc":47,"ic":2.75},{"fc":48,"ic":2.55},{"fc":49,"ic":3.2},{"fc":50,"ic":2.95},{"fc":51,"ic":2.35},{"fc":52,"ic":2.85},{"fc":53,"ic":2.75},{"fc":54,"ic":3.1},{"fc":55,"ic":2.5},{"fc":56,"ic":2.8},{"fc":57,"ic":3.35},{"fc":58,"ic":2.6},{"fc":59,"ic":2.9},{"fc":60,"ic":3.1},{"fc":62,"ic":3.3},{"fc":64,"ic":2.65},{"fc":66,"ic":3.05},{"fc":68,"ic":2.4},{"fc":70,"ic":2.9},{"fc":72,"ic":3.35},{"fc":74,"ic":2.95},{"fc":76,"ic":3.35},{"fc":78,"ic":2.85},{"fc":80,"ic":2.7},{"fc":82,"ic":2.95},{"fc":84,"ic":3.35},{"fc":86,"ic":2.7},{"fc":88,"ic":2.95},{"fc":90,"ic":2.6},{"fc":92,"ic":3.05},{"fc":94,"ic":3.35},{"fc":96,"ic":2.75},{"fc":98,"ic":3.25},{"fc":100,"ic":2.65},{"fc":20,"ic":1.7},{"fc":22,"ic":1.55},{"fc":25,"ic":1.8},{"fc":28,"ic":1.65},{"fc":32,"ic":1.8},{"fc":35,"ic":1.55},{"fc":38,"ic":1.65},{"fc":42,"ic":1.6},{"fc":46,"ic":1.75},{"fc":50,"ic":1.5},{"fc":54,"ic":1.7},{"fc":58,"ic":1.75},{"fc":62,"ic":1.6},{"fc":66,"ic":1.8},{"fc":70,"ic":1.65},{"fc":74,"ic":1.55},{"fc":78,"ic":1.7},{"fc":82,"ic":1.6},{"fc":86,"ic":1.75},{"fc":90,"ic":1.65},{"fc":94,"ic":1.55},{"fc":98,"ic":1.8},{"fc":100,"ic":1.7},{"fc":96,"ic":1.6},{"fc":92,"ic":1.95},{"fc":88,"ic":1.85},{"fc":84,"ic":1.9},{"fc":80,"ic":1.85},{"fc":76,"ic":1.95},{"fc":72,"ic":1.75},{"fc":68,"ic":1.6},{"fc":64,"ic":1.9},{"fc":60,"ic":1.8},{"fc":56,"ic":1.7},{"fc":52,"ic":1.95},{"fc":48,"ic":1.9}],
"b75deep":[{"fc":3.0,"ic":2.73},{"fc":3.3,"ic":1.15},{"fc":3.5,"ic":1.18},{"fc":4.0,"ic":1.22},{"fc":4.5,"ic":2.43},{"fc":5,"ic":2.4},{"fc":6,"ic":2.33},{"fc":7,"ic":2.43},{"fc":7.8,"ic":2.88},{"fc":8.8,"ic":2.42},{"fc":10.5,"ic":3.17},{"fc":10,"ic":1.18},{"fc":11,"ic":2.4},{"fc":12,"ic":2.2},{"fc":14.5,"ic":2.75},{"fc":15,"ic":2.4},{"fc":16,"ic":2.33},{"fc":18,"ic":3.05},{"fc":20,"ic":3.12},{"fc":19,"ic":2.55},{"fc":22,"ic":2.25},{"fc":26,"ic":1.4},{"fc":45,"ic":3.05},{"fc":60,"ic":2.8},{"fc":70,"ic":3.2},{"fc":85,"ic":1.48},{"fc":95,"ic":3.45},{"fc":100,"ic":1.63},{"fc":2.0,"ic":1.28},{"fc":1.8,"ic":1.28},{"fc":1.3,"ic":1.3},{"fc":2.7,"ic":2.17},{"fc":1.05,"ic":1.47},{"fc":1.15,"ic":1.55},{"fc":1.25,"ic":1.6},{"fc":1.35,"ic":1.5},{"fc":1.45,"ic":1.65},{"fc":1.55,"ic":1.42},{"fc":1.65,"ic":1.58},{"fc":1.75,"ic":1.72},{"fc":1.85,"ic":1.48},{"fc":1.9,"ic":1.62},{"fc":2.0,"ic":1.55},{"fc":2.05,"ic":1.4},{"fc":2.1,"ic":1.68},{"fc":2.2,"ic":1.5},{"fc":2.25,"ic":1.78},{"fc":2.3,"ic":1.6},{"fc":2.4,"ic":1.45},{"fc":2.45,"ic":1.88},{"fc":2.5,"ic":1.55},{"fc":2.6,"ic":1.68},{"fc":2.65,"ic":1.42},{"fc":2.7,"ic":1.75},{"fc":2.8,"ic":1.52},{"fc":2.85,"ic":1.62},{"fc":2.9,"ic":1.45},{"fc":3.0,"ic":1.7},{"fc":2.15,"ic":1.35},{"fc":2.55,"ic":1.3},{"fc":3.1,"ic":1.55},{"fc":3.15,"ic":1.82},{"fc":3.2,"ic":1.45},{"fc":3.3,"ic":1.65},{"fc":3.4,"ic":1.5},{"fc":3.45,"ic":1.75},{"fc":3.5,"ic":1.38},{"fc":3.6,"ic":1.6},{"fc":3.7,"ic":1.48},{"fc":3.75,"ic":1.85},{"fc":3.8,"ic":1.68},{"fc":3.9,"ic":1.42},{"fc":4.0,"ic":1.58},{"fc":4.1,"ic":1.78},{"fc":4.2,"ic":1.5},{"fc":4.3,"ic":1.65},{"fc":4.4,"ic":1.92},{"fc":4.5,"ic":1.45},{"fc":4.6,"ic":1.72},{"fc":4.7,"ic":1.55},{"fc":4.8,"ic":1.85},{"fc":4.9,"ic":1.4},{"fc":5.0,"ic":1.62},{"fc":5.1,"ic":1.78},{"fc":5.2,"ic":1.5},{"fc":5.3,"ic":1.68},{"fc":5.4,"ic":1.95},{"fc":5.5,"ic":1.45},{"fc":5.6,"ic":1.6},{"fc":5.7,"ic":1.75},{"fc":5.8,"ic":1.52},{"fc":5.9,"ic":1.85},{"fc":6.0,"ic":1.65},{"fc":4.4,"ic":2.08},{"fc":5.2,"ic":2.1},{"fc":4.0,"ic":1.3},{"fc":4.5,"ic":1.28},{"fc":3.6,"ic":1.3},{"fc":6.1,"ic":1.48},{"fc":6.2,"ic":1.72},{"fc":6.3,"ic":1.58},{"fc":6.4,"ic":1.9},{"fc":6.5,"ic":1.45},{"fc":6.6,"ic":1.65},{"fc":6.7,"ic":1.8},{"fc":6.8,"ic":1.52},{"fc":6.9,"ic":1.7},{"fc":7.0,"ic":1.98},{"fc":7.1,"ic":1.42},{"fc":7.2,"ic":1.6},{"fc":7.3,"ic":1.75},{"fc":7.4,"ic":1.5},{"fc":7.5,"ic":1.88},{"fc":7.6,"ic":1.65},{"fc":7.7,"ic":1.4},{"fc":7.8,"ic":1.58},{"fc":7.9,"ic":1.78},{"fc":8.0,"ic":1.48},{"fc":8.1,"ic":2.0},{"fc":8.2,"ic":1.68},{"fc":8.3,"ic":1.55},{"fc":8.4,"ic":1.85},{"fc":8.5,"ic":1.45},{"fc":8.6,"ic":1.72},{"fc":8.7,"ic":1.6},{"fc":8.8,"ic":1.92},{"fc":8.9,"ic":1.5},{"fc":9.0,"ic":1.78},{"fc":9.1,"ic":1.38},{"fc":9.2,"ic":1.65},{"fc":9.3,"ic":1.82},{"fc":9.4,"ic":1.52},{"fc":9.5,"ic":2.05},{"fc":9.6,"ic":1.7},{"fc":9.7,"ic":1.45},{"fc":9.8,"ic":1.6},{"fc":9.9,"ic":1.88},{"fc":7.8,"ic":2.15},{"fc":7.2,"ic":2.28},{"fc":6.6,"ic":2.3},{"fc":10.1,"ic":1.55},{"fc":10.3,"ic":1.78},{"fc":10.5,"ic":1.62},{"fc":10.7,"ic":1.95},{"fc":10.9,"ic":1.45},{"fc":11.1,"ic":1.7},{"fc":11.3,"ic":2.1},{"fc":11.5,"ic":1.58},{"fc":11.7,"ic":1.85},{"fc":11.9,"ic":1.5},{"fc":12.1,"ic":1.72},{"fc":12.3,"ic":2.0},{"fc":12.5,"ic":1.62},{"fc":12.7,"ic":1.88},{"fc":12.9,"ic":1.42},{"fc":13.1,"ic":1.75},{"fc":13.3,"ic":1.98},{"fc":13.5,"ic":1.55},{"fc":13.7,"ic":1.8},{"fc":13.9,"ic":1.65},{"fc":14.1,"ic":2.05},{"fc":14.3,"ic":1.48},{"fc":14.5,"ic":1.7},{"fc":14.7,"ic":1.92},{"fc":14.9,"ic":1.58},{"fc":15.2,"ic":1.82},{"fc":15.5,"ic":2.15},{"fc":15.8,"ic":1.62},{"fc":16.1,"ic":1.75},{"fc":16.4,"ic":1.95},{"fc":16.7,"ic":1.52},{"fc":17.0,"ic":1.88},{"fc":17.3,"ic":1.68},{"fc":17.6,"ic":2.08},{"fc":17.9,"ic":1.58},{"fc":18.2,"ic":1.8},{"fc":18.5,"ic":1.95},{"fc":18.8,"ic":1.65},{"fc":19.1,"ic":2.2},{"fc":19.4,"ic":1.72},{"fc":19.7,"ic":1.9},{"fc":11,"ic":2.25},{"fc":13,"ic":2.35},{"fc":20.3,"ic":1.62},{"fc":20.8,"ic":1.85},{"fc":21.3,"ic":2.0},{"fc":21.8,"ic":1.72},{"fc":22.3,"ic":1.95},{"fc":22.8,"ic":1.58},{"fc":23.3,"ic":2.1},{"fc":23.8,"ic":1.8},{"fc":24.3,"ic":1.68},{"fc":24.8,"ic":2.05},{"fc":25.3,"ic":1.9},{"fc":25.8,"ic":1.6},{"fc":26.3,"ic":2.2},{"fc":26.8,"ic":1.75},{"fc":27.3,"ic":1.98},{"fc":27.8,"ic":1.65},{"fc":28.3,"ic":2.12},{"fc":28.8,"ic":1.85},{"fc":29.3,"ic":2.3},{"fc":29.8,"ic":1.72},{"fc":31,"ic":2.05},{"fc":32,"ic":1.68},{"fc":33,"ic":2.4},{"fc":34,"ic":1.85},{"fc":35,"ic":2.15},{"fc":36,"ic":1.62},{"fc":37,"ic":2.55},{"fc":38,"ic":1.95},{"fc":39,"ic":2.25},{"fc":40,"ic":1.78},{"fc":31.5,"ic":1.9},{"fc":33.5,"ic":2.2},{"fc":35.5,"ic":1.75},{"fc":37.5,"ic":2.0},{"fc":39.5,"ic":2.6},{"fc":41,"ic":2.05},{"fc":42,"ic":2.4},{"fc":43,"ic":1.7},{"fc":44,"ic":2.25},{"fc":45,"ic":1.88},{"fc":46,"ic":2.55},{"fc":47,"ic":2.1},{"fc":48,"ic":1.78},{"fc":49,"ic":2.35},{"fc":50,"ic":2.0},{"fc":51,"ic":2.65},{"fc":52,"ic":1.85},{"fc":53,"ic":2.3},{"fc":54,"ic":2.48},{"fc":55,"ic":1.95},{"fc":56,"ic":2.2},{"fc":57,"ic":2.6},{"fc":58,"ic":1.8},{"fc":59,"ic":2.4},{"fc":60,"ic":2.12},{"fc":61,"ic":2.7},{"fc":62,"ic":1.92},{"fc":63,"ic":2.35},{"fc":64,"ic":2.55},{"fc":65,"ic":2.05},{"fc":66,"ic":2.75},{"fc":67,"ic":2.25},{"fc":68,"ic":1.85},{"fc":69,"ic":2.5},{"fc":70,"ic":2.3},{"fc":44,"ic":1.6},{"fc":52,"ic":1.55},{"fc":58,"ic":1.62},{"fc":48,"ic":2.85},{"fc":55,"ic":2.8},{"fc":62,"ic":2.9},{"fc":71,"ic":2.6},{"fc":72,"ic":1.95},{"fc":73,"ic":2.4},{"fc":74,"ic":2.85},{"fc":75,"ic":2.15},{"fc":76,"ic":2.5},{"fc":77,"ic":1.9},{"fc":78,"ic":2.7},{"fc":79,"ic":2.3},{"fc":80,"ic":2.95},{"fc":81,"ic":2.05},{"fc":82,"ic":2.6},{"fc":83,"ic":2.35},{"fc":84,"ic":2.8},{"fc":85,"ic":2.2},{"fc":86,"ic":2.55},{"fc":87,"ic":1.98},{"fc":88,"ic":2.9},{"fc":89,"ic":2.4},{"fc":90,"ic":2.7},{"fc":91,"ic":2.15},{"fc":92,"ic":2.5},{"fc":93,"ic":2.95},{"fc":94,"ic":2.3},{"fc":95,"ic":2.75},{"fc":96,"ic":2.1},{"fc":97,"ic":2.55},{"fc":98,"ic":3.0},{"fc":99,"ic":2.35},{"fc":100,"ic":2.65},{"fc":100,"ic":2.2},{"fc":100,"ic":2.9},{"fc":100,"ic":2.45},{"fc":99,"ic":3.15},{"fc":98,"ic":2.25},{"fc":97,"ic":2.8},{"fc":96,"ic":2.6},{"fc":95,"ic":2.0},{"fc":93,"ic":2.45},{"fc":91,"ic":2.85},{"fc":89,"ic":2.2},{"fc":87,"ic":2.6},{"fc":85,"ic":2.45},{"fc":83,"ic":1.85},{"fc":81,"ic":2.3},{"fc":79,"ic":2.7},{"fc":77,"ic":2.45},{"fc":75,"ic":1.78},{"fc":1.3,"ic":1.42},{"fc":1.7,"ic":1.52},{"fc":2.2,"ic":1.62},{"fc":2.7,"ic":1.5},{"fc":3.2,"ic":1.6},{"fc":3.5,"ic":1.72},{"fc":3.9,"ic":1.55},{"fc":4.3,"ic":1.42},{"fc":4.7,"ic":1.65},{"fc":5.1,"ic":1.55},{"fc":5.5,"ic":1.7},{"fc":5.9,"ic":1.45},{"fc":6.3,"ic":1.68},{"fc":6.7,"ic":1.55},{"fc":7.1,"ic":1.72},{"fc":7.5,"ic":1.6},{"fc":7.9,"ic":1.5},{"fc":8.3,"ic":1.7},{"fc":8.7,"ic":1.48},{"fc":9.1,"ic":1.6},{"fc":9.5,"ic":1.55},{"fc":9.9,"ic":1.72},{"fc":3.0,"ic":1.85},{"fc":4.0,"ic":1.88},{"fc":5.0,"ic":1.9},{"fc":6.0,"ic":1.95},{"fc":3.3,"ic":1.38},{"fc":5.8,"ic":1.35},{"fc":7.3,"ic":1.32},{"fc":8.1,"ic":1.37},{"fc":10.5,"ic":1.5},{"fc":11.5,"ic":1.65},{"fc":12.5,"ic":1.78},{"fc":13.5,"ic":1.45},{"fc":14.5,"ic":1.85},{"fc":15.5,"ic":1.55},{"fc":16.5,"ic":1.68},{"fc":17.5,"ic":1.45},{"fc":18.5,"ic":1.58},{"fc":19.5,"ic":1.78},{"fc":20.5,"ic":1.52},{"fc":21.5,"ic":1.75},{"fc":22.5,"ic":1.65},{"fc":23.5,"ic":1.88},{"fc":24.5,"ic":1.55},{"fc":26,"ic":1.78},{"fc":27,"ic":1.55},{"fc":28,"ic":1.95},{"fc":29,"ic":1.62},{"fc":30,"ic":1.85},{"fc":1.1,"ic":1.5},{"fc":1.2,"ic":1.65},{"fc":1.4,"ic":1.55},{"fc":1.5,"ic":1.72},{"fc":1.6,"ic":1.45},{"fc":1.8,"ic":1.6},{"fc":1.9,"ic":1.75},{"fc":2.1,"ic":1.45},{"fc":2.3,"ic":1.7},{"fc":2.4,"ic":1.58},{"fc":2.5,"ic":1.48},{"fc":2.6,"ic":1.8},{"fc":2.8,"ic":1.4},{"fc":2.9,"ic":1.68},{"fc":3.1,"ic":1.75},{"fc":3.3,"ic":1.52},{"fc":3.4,"ic":1.62},{"fc":3.6,"ic":1.45},{"fc":3.7,"ic":1.7},{"fc":3.8,"ic":1.55},{"fc":4.0,"ic":1.45},{"fc":4.1,"ic":1.65},{"fc":4.3,"ic":1.75},{"fc":4.4,"ic":1.52},{"fc":4.6,"ic":1.6},{"fc":4.8,"ic":1.48},{"fc":4.9,"ic":1.72},{"fc":5.2,"ic":1.62},{"fc":5.3,"ic":1.45},{"fc":5.5,"ic":1.82},{"fc":5.7,"ic":1.58},{"fc":6.0,"ic":1.5},{"fc":6.2,"ic":1.62},{"fc":6.4,"ic":1.42},{"fc":6.6,"ic":1.75},{"fc":6.8,"ic":1.6},{"fc":7.0,"ic":1.52},{"fc":7.2,"ic":1.82},{"fc":7.4,"ic":1.65},{"fc":7.6,"ic":1.45},{"fc":7.8,"ic":1.72},{"fc":8.0,"ic":1.62},{"fc":8.2,"ic":1.5},{"fc":8.4,"ic":1.78},{"fc":8.6,"ic":1.55},{"fc":8.8,"ic":1.68},{"fc":9.0,"ic":1.45},{"fc":9.2,"ic":1.75},{"fc":9.4,"ic":1.62},{"fc":9.6,"ic":1.85},{"fc":9.8,"ic":1.5},{"fc":3.2,"ic":1.92},{"fc":4.2,"ic":1.98},{"fc":5.6,"ic":2.02},{"fc":6.9,"ic":2.05},{"fc":8.9,"ic":2.1},{"fc":10.2,"ic":1.68},{"fc":10.8,"ic":1.85},{"fc":11.4,"ic":1.52},{"fc":12.0,"ic":1.9},{"fc":12.6,"ic":1.58},{"fc":13.2,"ic":1.7},{"fc":13.8,"ic":1.88},{"fc":14.4,"ic":1.62},{"fc":15.0,"ic":1.95},{"fc":15.6,"ic":1.72},{"fc":16.2,"ic":1.55},{"fc":16.8,"ic":1.82},{"fc":17.4,"ic":2.0},{"fc":18.0,"ic":1.7},{"fc":18.6,"ic":1.52},{"fc":19.2,"ic":1.85},{"fc":19.8,"ic":2.05},{"fc":20.5,"ic":1.7},{"fc":21.5,"ic":1.88},{"fc":22.5,"ic":2.08},{"fc":23.5,"ic":1.62},{"fc":24.5,"ic":1.92},{"fc":25.5,"ic":2.15},{"fc":26.5,"ic":1.68},{"fc":27.5,"ic":1.88},{"fc":28.5,"ic":2.2},{"fc":29.5,"ic":1.95},{"fc":12,"ic":1.45},{"fc":16,"ic":1.45},{"fc":22,"ic":1.5},{"fc":26,"ic":1.55},{"fc":30.5,"ic":2.0},{"fc":32,"ic":2.15},{"fc":33.5,"ic":1.8},{"fc":35,"ic":2.35},{"fc":36.5,"ic":1.95},{"fc":38,"ic":2.2},{"fc":39.5,"ic":1.85},{"fc":41,"ic":2.45},{"fc":42.5,"ic":2.1},{"fc":44,"ic":1.95},{"fc":45.5,"ic":2.35},{"fc":47,"ic":2.6},{"fc":48.5,"ic":2.15},{"fc":50,"ic":2.5},{"fc":51.5,"ic":1.9},{"fc":53,"ic":2.2},{"fc":54.5,"ic":2.7},{"fc":56,"ic":2.35},{"fc":57.5,"ic":2.05},{"fc":59,"ic":2.6},{"fc":60.5,"ic":2.25},{"fc":62,"ic":2.5},{"fc":63.5,"ic":2.05},{"fc":65,"ic":2.7},{"fc":66.5,"ic":2.35},{"fc":68,"ic":2.6},{"fc":69.5,"ic":2.1},{"fc":71,"ic":2.8},{"fc":72.5,"ic":2.35},{"fc":74,"ic":2.55},{"fc":75.5,"ic":2.05},{"fc":77,"ic":2.65},{"fc":78.5,"ic":2.25},{"fc":80,"ic":2.45},{"fc":81.5,"ic":2.75},{"fc":83,"ic":2.15},{"fc":84.5,"ic":2.6},{"fc":86,"ic":2.35},{"fc":87.5,"ic":2.8},{"fc":89,"ic":2.55},{"fc":90.5,"ic":2.3},{"fc":92,"ic":2.65},{"fc":93.5,"ic":2.4},{"fc":95,"ic":2.9},{"fc":96.5,"ic":2.5},{"fc":98,"ic":2.7},{"fc":99.5,"ic":2.4},{"fc":100,"ic":2.8},{"fc":100,"ic":2.55},{"fc":100,"ic":2.3},{"fc":100,"ic":2.05},{"fc":100,"ic":3.0},{"fc":99,"ic":2.6},{"fc":97,"ic":2.35},{"fc":94,"ic":2.15},{"fc":91,"ic":2.5},{"fc":88,"ic":2.1},{"fc":85,"ic":2.9},{"fc":82,"ic":2.4},{"fc":79,"ic":2.05},{"fc":76,"ic":2.8},{"fc":73,"ic":2.15},{"fc":70,"ic":2.45},{"fc":67,"ic":2.0},{"fc":64,"ic":2.3},{"fc":61,"ic":2.45},{"fc":58,"ic":2.1},{"fc":55,"ic":2.5},{"fc":52,"ic":2.4},{"fc":49,"ic":2.0},{"fc":46,"ic":2.2},{"fc":43,"ic":2.05},{"fc":40,"ic":2.3},{"fc":37,"ic":2.1}],
"b63shallow":[{"fc":1.0,"ic":1.55},{"fc":2.0,"ic":1.5},{"fc":3.0,"ic":2.18},{"fc":4.2,"ic":1.32},{"fc":7.0,"ic":2.65},{"fc":8.0,"ic":2.3},{"fc":8.7,"ic":1.32},{"fc":14,"ic":2.42},{"fc":18,"ic":2.42},{"fc":21,"ic":1.45},{"fc":26,"ic":3.3},{"fc":27,"ic":2.5},{"fc":30,"ic":1.5},{"fc":30,"ic":2.78},{"fc":33,"ic":2.5},{"fc":40,"ic":2.85},{"fc":45,"ic":2.85},{"fc":50,"ic":1.21},{"fc":55,"ic":2.95},{"fc":60,"ic":2.3},{"fc":65,"ic":2.0},{"fc":70,"ic":2.7},{"fc":75,"ic":2.2},{"fc":80,"ic":1.7},{"fc":85,"ic":1.35},{"fc":90,"ic":2.25},{"fc":95,"ic":3.1},{"fc":100,"ic":2.6},{"fc":38,"ic":1.9},{"fc":48,"ic":2.1},{"fc":12,"ic":1.8},{"fc":5.5,"ic":1.6},{"fc":6.5,"ic":1.45},{"fc":10,"ic":1.55},{"fc":16,"ic":1.8},{"fc":24,"ic":1.9}],
"b75shallow":[{"fc":1.0,"ic":1.38},{"fc":2.0,"ic":1.35},{"fc":4.2,"ic":1.2},{"fc":4,"ic":1.5},{"fc":5,"ic":1.48},{"fc":6,"ic":1.55},{"fc":7,"ic":1.62},{"fc":9,"ic":1.4},{"fc":20,"ic":2.02},{"fc":25,"ic":1.65},{"fc":32,"ic":1.92},{"fc":40,"ic":2.05},{"fc":45,"ic":2.7},{"fc":52,"ic":2.15},{"fc":60,"ic":1.62},{"fc":65,"ic":2.45},{"fc":70,"ic":2.0},{"fc":80,"ic":2.55},{"fc":90,"ic":2.85},{"fc":100,"ic":3.33},{"fc":100,"ic":2.9},{"fc":85,"ic":2.75},{"fc":30,"ic":2.4},{"fc":15,"ic":1.7},{"fc":12,"ic":1.55},{"fc":18,"ic":1.6}],
"cfc":[{"depth":"0 to 5m","cfc":-0.29,"pct":94.3},{"depth":"0 to 5m","cfc":-0.25,"pct":93.8},{"depth":"0 to 5m","cfc":-0.2,"pct":91.8},{"depth":"0 to 5m","cfc":-0.15,"pct":89.8},{"depth":"0 to 5m","cfc":-0.1,"pct":87.4},{"depth":"0 to 5m","cfc":-0.07,"pct":86},{"depth":"0 to 5m","cfc":-0.05,"pct":84.3},{"depth":"0 to 5m","cfc":-0.02,"pct":81.8},{"depth":"0 to 5m","cfc":0,"pct":79.9},{"depth":"0 to 5m","cfc":0.02,"pct":78},{"depth":"0 to 5m","cfc":0.05,"pct":73.5},{"depth":"0 to 5m","cfc":0.1,"pct":66.7},{"depth":"0 to 5m","cfc":0.15,"pct":57.8},{"depth":"0 to 5m","cfc":0.2,"pct":48.4},{"depth":"0 to 5m","cfc":0.23,"pct":44},{"depth":"0 to 5m","cfc":0.25,"pct":41.5},{"depth":"0 to 5m","cfc":0.29,"pct":32},
{"depth":"5 to 10m","cfc":-0.29,"pct":98.1},{"depth":"5 to 10m","cfc":-0.25,"pct":98},{"depth":"5 to 10m","cfc":-0.2,"pct":97.5},{"depth":"5 to 10m","cfc":-0.15,"pct":96.9},{"depth":"5 to 10m","cfc":-0.1,"pct":95.6},{"depth":"5 to 10m","cfc":-0.07,"pct":95.2},{"depth":"5 to 10m","cfc":-0.05,"pct":93.9},{"depth":"5 to 10m","cfc":-0.02,"pct":91.5},{"depth":"5 to 10m","cfc":0,"pct":89.9},{"depth":"5 to 10m","cfc":0.03,"pct":87},{"depth":"5 to 10m","cfc":0.05,"pct":85},{"depth":"5 to 10m","cfc":0.06,"pct":84},{"depth":"5 to 10m","cfc":0.08,"pct":81.2},{"depth":"5 to 10m","cfc":0.1,"pct":77.4},{"depth":"5 to 10m","cfc":0.12,"pct":73},{"depth":"5 to 10m","cfc":0.15,"pct":65},{"depth":"5 to 10m","cfc":0.2,"pct":51},{"depth":"5 to 10m","cfc":0.22,"pct":46},{"depth":"5 to 10m","cfc":0.25,"pct":37},{"depth":"5 to 10m","cfc":0.29,"pct":22.6},
{"depth":"All","cfc":-0.29,"pct":96.2},{"depth":"All","cfc":-0.25,"pct":95.6},{"depth":"All","cfc":-0.2,"pct":94.3},{"depth":"All","cfc":-0.15,"pct":93.1},{"depth":"All","cfc":-0.1,"pct":91.2},{"depth":"All","cfc":-0.08,"pct":90.3},{"depth":"All","cfc":-0.05,"pct":88.2},{"depth":"All","cfc":-0.02,"pct":86},{"depth":"All","cfc":0,"pct":84.3},{"depth":"All","cfc":0.03,"pct":82},{"depth":"All","cfc":0.05,"pct":79.9},{"depth":"All","cfc":0.08,"pct":76.5},{"depth":"All","cfc":0.1,"pct":73.6},{"depth":"All","cfc":0.15,"pct":63},{"depth":"All","cfc":0.2,"pct":49.7},{"depth":"All","cfc":0.22,"pct":45.5},{"depth":"All","cfc":0.25,"pct":37.5},{"depth":"All","cfc":0.29,"pct":27.7}],
"c_notes":[{"cfc":0.046,"pct":93.7,"text":"89%"},{"cfc":0.074,"pct":88.7,"text":"84%"},{"cfc":-0.026,"pct":71.1,"text":"79%"},{"cfc":0.235,"pct":56.9,"text":"51%"},{"cfc":0.156,"pct":46.5,"text":"49%"},{"cfc":0.172,"pct":39,"text":"48%"}],
"c_arrows":[{"cfc":0.027,"pct":94.3,"cfc2":0.002,"pct2":90.9,"angle":246},{"cfc":0.057,"pct":88.9,"cfc2":0.001,"pct2":83.9,"angle":254},{"cfc":-0.008,"pct":72.3,"cfc2":0.002,"pct2":80.5,"angle":21},{"cfc":0.221,"pct":56.6,"cfc2":0.201,"pct2":51.6,"angle":231},{"cfc":0.172,"pct":47.8,"cfc2":0.197,"pct2":48.7,"angle":83},{"cfc":0.192,"pct":41,"cfc2":0.2,"pct2":46.5,"angle":24}],
"c_sub":[{"cfc":-0.002,"pct":-14.5,"text":"FC"}],
"frames":[{"panel":"a","x":0,"y":0,"x2":0,"y2":100},{"panel":"a","x":0,"y":0,"x2":100,"y2":0},{"panel":"a","x":100,"y":0,"x2":100,"y2":100},{"panel":"b","x":0,"y":0,"x2":100,"y2":0},{"panel":"l","x":0,"y":0,"x2":0,"y2":100},{"panel":"l","x":0,"y":0,"x2":100,"y2":0},{"panel":"l","x":100,"y":0,"x2":100,"y2":100},{"panel":"c","x":0,"y":0,"x2":100,"y2":0}],
"tags":[{"panel":"a","x":1.5,"y":92,"text":"(a)"},{"panel":"b","x":1.0,"y":94,"text":"(b)"},{"panel":"c","x":1.4,"y":94.3,"text":"(c)"}],
"leg_table":[{"x":11.9,"y":43.3,"x2":91.8,"y2":43.3},{"x":11.9,"y":54.5,"x2":91.8,"y2":54.5},{"x":11.9,"y":65.7,"x2":91.8,"y2":65.7},{"x":11.9,"y":76.2,"x2":91.8,"y2":76.2},{"x":11.9,"y":43.3,"x2":11.9,"y2":76.2},{"x":43.8,"y":43.3,"x2":43.8,"y2":76.2},{"x":67.8,"y":43.3,"x2":67.8,"y2":76.2},{"x":91.8,"y":43.3,"x2":91.8,"y2":76.2}],
"leg_head":[{"x":3.75,"y":6.3,"text":"Legend"},{"x":3.75,"y":15.4,"text":"(a) International Data Correlations"},{"x":3.75,"y":39.0,"text":"(b) Christchurch Data Correlation"},{"x":31.0,"y":82.8,"text":"Sensitivity"}],
"leg_headr":[{"x":26.9,"y":82.8,"text":"(c) Christchurch C"}],
"leg_sub":[{"x":27.1,"y":84.3,"text":"FC"}],
"leg_text":[{"x":11.4,"y":22.7,"text":"Suzuke et al. (1998)"},{"x":11.4,"y":30.2,"text":"Liq case histories"},{"x":11.4,"y":90.0,"text":"Depth = 0 to 5m"},{"x":60.8,"y":90.0,"text":"Depth = 5 to 10m"},{"x":11.4,"y":97.0,"text":"All (Depth = 0 to 10m)"}],
"leg_cell":[{"x":27.8,"y":49.2,"text":"FC Determined from"},{"x":55.9,"y":49.2,"text":"0 to 5m depth"},{"x":79.9,"y":49.2,"text":"5 to 10m depth"},{"x":27.8,"y":60.4,"text":"63µm sieve"},{"x":27.8,"y":71.6,"text":"75µm sieve"}],
"leg_sym":[{"x":43.8,"y":22.6,"symbol":"Suzuke et al. (1998)"},{"x":43.8,"y":30.1,"symbol":"Liq case histories"},{"x":56.9,"y":60.2,"symbol":"63µm, 0 to 5m"},{"x":80.7,"y":60.3,"symbol":"63µm, 5 to 10m"},{"x":56.9,"y":71.4,"symbol":"75µm, 0 to 5m"},{"x":80.7,"y":71.5,"symbol":"75µm, 5 to 10m"}],
"leg_lines":[{"x":45.0,"x2":53.2,"y":89.9,"depth":"0 to 5m"},{"x":87.7,"x2":96.1,"y":89.9,"depth":"5 to 10m"},{"x":45.0,"x2":53.2,"y":97.6,"depth":"All"}]
},
"vconcat":[
{"spacing":-3,"hconcat":[
 {"width":492,"height":261,"view":{"stroke":"#111","strokeWidth":3},
  "resolve":{"scale":{"x":"independent","y":"independent"}},
  "layer":[
   {"resolve":{"axis":{"x":"independent","y":"independent"}},
    "layer":[
     {"data":{"name":"suzuki"},"mark":{"type":"point","shape":"circle","filled":true,"size":95,"fill":"#6fcbd0","stroke":"#2b3b40","strokeWidth":0.8,"opacity":1},
      "encoding":{"x":{"field":"fc","type":"quantitative","scale":{"type":"log","domain":[1,100],"nice":false},"axis":{"orient":"bottom","values":[1,2,3,4,5,6,7,8,9,10,20,30,40,50,60,70,80,90,100],"labelExpr":"indexof([1,10,100], datum.value) >= 0 ? '' + datum.value : ''","labelFlush":false,"labelOverlap":false,"labelPadding":12,"title":"Fines content, FC (%)","titlePadding":3,"grid":true,"gridOpacity":{"condition":{"test":"datum.value == 10","value":1},"value":0}}},
       "y":{"field":"ic","type":"quantitative","scale":{"domain":[1,3.5],"nice":false,"zero":false},"axis":{"orient":"left","values":[1,1.25,1.5,1.75,2,2.25,2.5,2.75,3,3.25,3.5],"labelExpr":"round(datum.value*100) % 50 == 0 ? format(datum.value, '.1f') : ''","labelFlush":false,"labelOverlap":false,"labelPadding":16,"title":"Soil behavior type indes, Ic","titlePadding":3,"grid":true,"gridOpacity":{"condition":{"test":"round(datum.value*100) % 50 == 0","value":1},"value":0}}}}},
     {"data":{"name":"liq"},"mark":{"type":"point","shape":"circle","filled":true,"size":95,"fill":"#e0242a","stroke":"#3a1a1a","strokeWidth":0.8,"opacity":1},
      "encoding":{"x":{"field":"fc","type":"quantitative","scale":{"type":"log","domain":[1,100],"nice":false},"axis":null},"y":{"field":"ic","type":"quantitative","scale":{"domain":[1,3.5],"nice":false,"zero":false},"axis":null}}},
     {"data":{"name":"icurves"},"mark":{"type":"line","color":"#000","strokeWidth":3.5,"strokeDash":[9,5]},
      "encoding":{"x":{"field":"fc","type":"quantitative","scale":{"type":"log","domain":[1,100],"nice":false},"axis":{"orient":"top","values":[1,2,3,4,5,6,7,8,9,10,20,30,40,50,60,70,80,90,100],"labels":false,"grid":false,"title":null}},"y":{"field":"upper","type":"quantitative","scale":{"domain":[1,3.5],"nice":false,"zero":false},"axis":{"orient":"right","values":[1,1.25,1.5,1.75,2,2.25,2.5,2.75,3,3.25,3.5],"labels":false,"grid":false,"title":null}}}},
     {"data":{"name":"icurves"},"mark":{"type":"line","color":"#000","strokeWidth":3},
      "encoding":{"x":{"field":"fc","type":"quantitative","scale":{"type":"log","domain":[1,100],"nice":false},"axis":null},"y":{"field":"mid","type":"quantitative","scale":{"domain":[1,3.5],"nice":false,"zero":false},"axis":null}}},
     {"data":{"name":"icurves"},"mark":{"type":"line","color":"#000","strokeWidth":3.5,"strokeDash":[9,5]},
      "encoding":{"x":{"field":"fc","type":"quantitative","scale":{"type":"log","domain":[1,100],"nice":false},"axis":null},"y":{"field":"lower","type":"quantitative","scale":{"domain":[1,3.5],"nice":false,"zero":false},"axis":null}}},
     {"data":{"name":"rw"},"mark":{"type":"line","color":"#3f5fb5","strokeWidth":4,"strokeDash":[16,6,4,6]},
      "encoding":{"x":{"field":"fc","type":"quantitative","scale":{"type":"log","domain":[1,100],"nice":false},"axis":null},"y":{"field":"ic","type":"quantitative","scale":{"domain":[1,3.5],"nice":false,"zero":false},"axis":null}}},
     {"data":{"name":"a_boxes"},"mark":{"type":"rect","fill":"white"},
      "encoding":{"x":{"field":"fc","type":"quantitative","scale":{"type":"log","domain":[1,100],"nice":false},"axis":null},"x2":{"field":"fc2"},"y":{"field":"ic","type":"quantitative","scale":{"domain":[1,3.5],"nice":false,"zero":false},"axis":null},"y2":{"field":"ic2"}}},
     {"data":{"name":"a_cfc"},"mark":{"type":"text","font":"Liberation Sans","fontStyle":"italic","fontSize":15,"align":"center","baseline":"middle","color":"#111"},
      "encoding":{"x":{"field":"fc","type":"quantitative","scale":{"type":"log","domain":[1,100],"nice":false},"axis":null},"y":{"field":"ic","type":"quantitative","scale":{"domain":[1,3.5],"nice":false,"zero":false},"axis":null},"text":{"field":"text"}}},
     {"data":{"name":"a_eq"},"mark":{"type":"text","font":"Liberation Sans","fontStyle":"italic","fontSize":16,"align":"left","baseline":"middle","color":"#111"},
      "encoding":{"x":{"field":"fc","type":"quantitative","scale":{"type":"log","domain":[1,100],"nice":false},"axis":null},"y":{"field":"ic","type":"quantitative","scale":{"domain":[1,3.5],"nice":false,"zero":false},"axis":null},"text":{"field":"text"}}},
     {"data":{"name":"a_sub"},"mark":{"type":"text","font":"Liberation Sans","fontStyle":"italic","fontSize":10,"align":"left","baseline":"middle","color":"#111"},
      "encoding":{"x":{"field":"fc","type":"quantitative","scale":{"type":"log","domain":[1,100],"nice":false},"axis":null},"y":{"field":"ic","type":"quantitative","scale":{"domain":[1,3.5],"nice":false,"zero":false},"axis":null},"text":{"field":"text"}}},
     {"data":{"name":"a_note"},"mark":{"type":"text","font":"Liberation Sans","fontStyle":"italic","fontSize":13,"align":"center","baseline":"middle","color":"#444"},
      "encoding":{"x":{"field":"fc","type":"quantitative","scale":{"type":"log","domain":[1,100],"nice":false},"axis":null},"y":{"field":"ic","type":"quantitative","scale":{"domain":[1,3.5],"nice":false,"zero":false},"axis":null},"text":{"field":"text"}}},
     {"data":{"name":"a_leaders"},"mark":{"type":"rule","color":"#333","strokeWidth":1.2},
      "encoding":{"x":{"field":"fc","type":"quantitative","scale":{"type":"log","domain":[1,100],"nice":false},"axis":null},"x2":{"field":"fc2"},"y":{"field":"ic","type":"quantitative","scale":{"domain":[1,3.5],"nice":false,"zero":false},"axis":null},"y2":{"field":"ic2"}}},
     {"data":{"name":"a_heads"},"mark":{"type":"point","shape":"wedge","filled":true,"size":70,"color":"#222","opacity":1},
      "encoding":{"x":{"field":"fc","type":"quantitative","scale":{"type":"log","domain":[1,100],"nice":false},"axis":null},"y":{"field":"ic","type":"quantitative","scale":{"domain":[1,3.5],"nice":false,"zero":false},"axis":null},"angle":{"field":"angle","type":"quantitative","scale":null}}}
    ]},
   {"layer":[
     {"data":{"name":"frames"},"transform":[{"filter":"datum.panel == 'a'"}],"mark":{"type":"rule","color":"#111","strokeWidth":2},
      "encoding":{"x":{"field":"x","type":"quantitative","scale":{"domain":[0,100],"range":[-67,520],"nice":false},"axis":null},"y":{"field":"y","type":"quantitative","scale":{"domain":[0,100],"range":[-13,314],"nice":false},"axis":null},"x2":{"field":"x2"},"y2":{"field":"y2"}}},
     {"data":{"name":"tags"},"transform":[{"filter":"datum.panel == 'a'"}],"mark":{"type":"text","font":"Lato","fontStyle":"italic","fontSize":21,"align":"left","baseline":"middle","color":"#111"},
      "encoding":{"x":{"field":"x","type":"quantitative","scale":{"domain":[0,100],"range":[-67,520],"nice":false},"axis":null},"y":{"field":"y","type":"quantitative","scale":{"domain":[0,100],"range":[-13,314],"nice":false},"axis":null},"text":{"field":"text"}}}
   ]}
  ]},
 {"width":493,"height":261,"view":{"stroke":"#111","strokeWidth":3},
  "resolve":{"scale":{"x":"independent","y":"independent"}},
  "layer":[
   {"resolve":{"axis":{"x":"independent","y":"independent"}},
    "layer":[
     {"data":{"name":"b63deep"},"mark":{"type":"point","shape":"circle","filled":true,"size":110,"fill":"#2677bf","stroke":"#1a2633","strokeWidth":1,"opacity":1},
      "encoding":{"x":{"field":"fc","type":"quantitative","scale":{"type":"log","domain":[1,100],"nice":false},"axis":{"orient":"bottom","values":[1,2,3,4,5,6,7,8,9,10,20,30,40,50,60,70,80,90,100],"labelExpr":"indexof([1,10,100], datum.value) >= 0 ? '' + datum.value : ''","labelFlush":false,"labelOverlap":false,"labelPadding":12,"title":"Fines content, FC (%)","titlePadding":3,"grid":true,"gridColor":"#999","gridOpacity":{"condition":{"test":"datum.value == 10","value":1},"value":0}}},
       "y":{"field":"ic","type":"quantitative","scale":{"domain":[1,3.5],"nice":false,"zero":false},"axis":{"orient":"left","values":[1,1.25,1.5,1.75,2,2.25,2.5,2.75,3,3.25,3.5],"labelExpr":"round(datum.value*100) % 50 == 0 ? format(datum.value, '.1f') : ''","labelFlush":false,"labelOverlap":false,"labelPadding":13,"title":"Soil behavior type indes, Ic","titlePadding":5,"grid":true,"gridColor":"#999","gridOpacity":{"condition":{"test":"round(datum.value*100) % 50 == 0","value":1},"value":0}}}}},
     {"data":{"name":"b75deep"},"mark":{"type":"point","shape":"circle","filled":true,"size":110,"fill":"#fcc12a","stroke":"#2a2410","strokeWidth":1,"opacity":1},
      "encoding":{"x":{"field":"fc","type":"quantitative","scale":{"type":"log","domain":[1,100],"nice":false},"axis":null},"y":{"field":"ic","type":"quantitative","scale":{"domain":[1,3.5],"nice":false,"zero":false},"axis":null}}},
     {"data":{"name":"b63shallow"},"mark":{"type":"point","shape":"triangle-up","filled":true,"size":110,"fill":"#5d8fd0","stroke":"#1a2633","strokeWidth":1,"opacity":1},
      "encoding":{"x":{"field":"fc","type":"quantitative","scale":{"type":"log","domain":[1,100],"nice":false},"axis":null},"y":{"field":"ic","type":"quantitative","scale":{"domain":[1,3.5],"nice":false,"zero":false},"axis":null}}},
     {"data":{"name":"b75shallow"},"mark":{"type":"point","shape":"triangle-up","filled":true,"size":110,"fill":"#f5b820","stroke":"#2a2410","strokeWidth":1,"opacity":1},
      "encoding":{"x":{"field":"fc","type":"quantitative","scale":{"type":"log","domain":[1,100],"nice":false},"axis":null},"y":{"field":"ic","type":"quantitative","scale":{"domain":[1,3.5],"nice":false,"zero":false},"axis":null}}},
     {"data":{"name":"icurves"},"mark":{"type":"line","color":"#000","strokeWidth":3,"strokeDash":[9,5]},
      "encoding":{"x":{"field":"fc","type":"quantitative","scale":{"type":"log","domain":[1,100],"nice":false},"axis":{"orient":"top","values":[1,2,3,4,5,6,7,8,9,10,20,30,40,50,60,70,80,90,100],"labels":false,"grid":false,"title":null}},"y":{"field":"upper","type":"quantitative","scale":{"domain":[1,3.5],"nice":false,"zero":false},"axis":{"orient":"right","values":[1,1.25,1.5,1.75,2,2.25,2.5,2.75,3,3.25,3.5],"labels":false,"grid":false,"title":null}}}},
     {"data":{"name":"icurves"},"mark":{"type":"line","color":"#000","strokeWidth":3,"strokeDash":[9,5]},
      "encoding":{"x":{"field":"fc","type":"quantitative","scale":{"type":"log","domain":[1,100],"nice":false},"axis":null},"y":{"field":"lower","type":"quantitative","scale":{"domain":[1,3.5],"nice":false,"zero":false},"axis":null}}},
     {"data":{"name":"icurves"},"mark":{"type":"line","color":"#000","strokeWidth":2},
      "encoding":{"x":{"field":"fc","type":"quantitative","scale":{"type":"log","domain":[1,100],"nice":false},"axis":null},"y":{"field":"mid","type":"quantitative","scale":{"domain":[1,3.5],"nice":false,"zero":false},"axis":null}}}
    ]},
   {"layer":[
     {"data":{"name":"frames"},"transform":[{"filter":"datum.panel == 'b'"}],"mark":{"type":"rule","color":"#111","strokeWidth":2},
      "encoding":{"x":{"field":"x","type":"quantitative","scale":{"domain":[0,100],"range":[-68,511],"nice":false},"axis":null},"y":{"field":"y","type":"quantitative","scale":{"domain":[0,100],"range":[-13,314],"nice":false},"axis":null},"x2":{"field":"x2"},"y2":{"field":"y2"}}},
     {"data":{"name":"tags"},"transform":[{"filter":"datum.panel == 'b'"}],"mark":{"type":"text","font":"Lato","fontStyle":"italic","fontSize":21,"align":"left","baseline":"middle","color":"#111"},
      "encoding":{"x":{"field":"x","type":"quantitative","scale":{"domain":[0,100],"range":[-68,511],"nice":false},"axis":null},"y":{"field":"y","type":"quantitative","scale":{"domain":[0,100],"range":[-13,314],"nice":false},"axis":null},"text":{"field":"text"}}}
   ]}
  ]}
]},
{"spacing":-3,"resolve":{"scale":{"color":"independent","shape":"independent","size":"independent","strokeWidth":"independent"}},"hconcat":[
 {"width":450,"height":300,"view":{"stroke":null},
  "resolve":{"scale":{"color":"independent"}},
  "layer":[
   {"data":{"name":"frames"},"transform":[{"filter":"datum.panel == 'l'"}],"mark":{"type":"rule","color":"#111","strokeWidth":2},
    "encoding":{"x":{"field":"x","type":"quantitative","scale":{"domain":[0,100],"range":[-67,520],"nice":false},"axis":null},"y":{"field":"y","type":"quantitative","scale":{"domain":[0,100],"range":[-12,319],"nice":false},"axis":null},"x2":{"field":"x2"},"y2":{"field":"y2"}}},
   {"data":{"name":"leg_table"},"mark":{"type":"rule","color":"#222","strokeWidth":1.5},
    "encoding":{"x":{"field":"x","type":"quantitative","scale":{"domain":[0,100],"range":[-67,520],"nice":false},"axis":null},"y":{"field":"y","type":"quantitative","scale":{"domain":[0,100],"range":[-12,319],"nice":false},"axis":null},"x2":{"field":"x2"},"y2":{"field":"y2"}}},
   {"data":{"name":"leg_head"},"mark":{"type":"text","font":"Lato","fontWeight":"bold","fontSize":18,"align":"left","baseline":"middle","color":"#111"},
    "encoding":{"x":{"field":"x","type":"quantitative","scale":{"domain":[0,100],"range":[-67,520],"nice":false},"axis":null},"y":{"field":"y","type":"quantitative","scale":{"domain":[0,100],"range":[-12,319],"nice":false},"axis":null},"text":{"field":"text"}}},
   {"data":{"name":"leg_headr"},"mark":{"type":"text","font":"Lato","fontWeight":"bold","fontSize":18,"align":"right","baseline":"middle","color":"#111"},
    "encoding":{"x":{"field":"x","type":"quantitative","scale":{"domain":[0,100],"range":[-67,520],"nice":false},"axis":null},"y":{"field":"y","type":"quantitative","scale":{"domain":[0,100],"range":[-12,319],"nice":false},"axis":null},"text":{"field":"text"}}},
   {"data":{"name":"leg_sub"},"mark":{"type":"text","font":"Lato","fontWeight":"bold","fontSize":11,"align":"left","baseline":"middle","color":"#111"},
    "encoding":{"x":{"field":"x","type":"quantitative","scale":{"domain":[0,100],"range":[-67,520],"nice":false},"axis":null},"y":{"field":"y","type":"quantitative","scale":{"domain":[0,100],"range":[-12,319],"nice":false},"axis":null},"text":{"field":"text"}}},
   {"data":{"name":"leg_text"},"mark":{"type":"text","font":"Lato","fontSize":18,"align":"left","baseline":"middle","color":"#111"},
    "encoding":{"x":{"field":"x","type":"quantitative","scale":{"domain":[0,100],"range":[-67,520],"nice":false},"axis":null},"y":{"field":"y","type":"quantitative","scale":{"domain":[0,100],"range":[-12,319],"nice":false},"axis":null},"text":{"field":"text"}}},
   {"data":{"name":"leg_cell"},"mark":{"type":"text","font":"Lato","fontSize":18,"align":"center","baseline":"middle","color":"#111"},
    "encoding":{"x":{"field":"x","type":"quantitative","scale":{"domain":[0,100],"range":[-67,520],"nice":false},"axis":null},"y":{"field":"y","type":"quantitative","scale":{"domain":[0,100],"range":[-12,319],"nice":false},"axis":null},"text":{"field":"text"}}},
   {"data":{"name":"leg_sym"},"mark":{"type":"point","filled":true,"stroke":"#222","strokeWidth":1,"opacity":1},
    "encoding":{"x":{"field":"x","type":"quantitative","scale":{"domain":[0,100],"range":[-67,520],"nice":false},"axis":null},"y":{"field":"y","type":"quantitative","scale":{"domain":[0,100],"range":[-12,319],"nice":false},"axis":null},
     "color":{"field":"symbol","type":"nominal","scale":{"domain":["Suzuke et al. (1998)","Liq case histories","63µm, 0 to 5m","63µm, 5 to 10m","75µm, 0 to 5m","75µm, 5 to 10m"],"range":["#6fcbd0","#e0242a","#5d8fd0","#3b8ad0","#f5b820","#fcc12a"]},"legend":null},
     "shape":{"field":"symbol","type":"nominal","scale":{"domain":["Suzuke et al. (1998)","Liq case histories","63µm, 0 to 5m","63µm, 5 to 10m","75µm, 0 to 5m","75µm, 5 to 10m"],"range":["circle","circle","triangle-up","circle","triangle-up","circle"]},"legend":null},
     "size":{"field":"symbol","type":"nominal","scale":{"domain":["Suzuke et al. (1998)","Liq case histories","63µm, 0 to 5m","63µm, 5 to 10m","75µm, 0 to 5m","75µm, 5 to 10m"],"range":[110,110,210,95,210,95]},"legend":null}}},
   {"data":{"name":"leg_lines"},"mark":{"type":"rule","strokeWidth":3.5},
    "encoding":{"x":{"field":"x","type":"quantitative","scale":{"domain":[0,100],"range":[-67,520],"nice":false},"axis":null},"y":{"field":"y","type":"quantitative","scale":{"domain":[0,100],"range":[-12,319],"nice":false},"axis":null},"x2":{"field":"x2"},
     "color":{"field":"depth","type":"nominal","scale":{"domain":["0 to 5m","5 to 10m","All"],"range":["#3d8fd4","#f8bb1f","#000000"]},"legend":null}}}
  ]},
 {"width":497,"height":265,"view":{"stroke":"#111","strokeWidth":3},
  "resolve":{"scale":{"x":"independent","y":"independent"}},
  "layer":[
   {"resolve":{"axis":{"x":"independent","y":"independent"}},
    "layer":[
     {"data":{"name":"cfc"},"mark":{"type":"line","strokeJoin":"round"},
      "encoding":{"x":{"field":"cfc","type":"quantitative","scale":{"domain":[-0.3,0.3],"nice":false,"zero":false},"axis":{"orient":"bottom","values":[-0.3,-0.25,-0.2,-0.15,-0.1,-0.05,0,0.05,0.1,0.15,0.2,0.25,0.3],"labelExpr":"round(datum.value*20) % 2 == 0 ? '' + datum.value : ''","labelFlush":false,"labelOverlap":false,"labelPadding":12,"title":"C","titleFontSize":20,"titlePadding":0,"titleX":241,"grid":true,"gridOpacity":{"condition":{"test":"round(datum.value*20) % 2 == 0","value":1},"value":0}}},
       "y":{"field":"pct","type":"quantitative","scale":{"domain":[0,100],"nice":false,"zero":false},"axis":{"orient":"left","values":[0,25,50,75,100],"labelFlush":false,"labelOverlap":false,"labelPadding":4,"tickSize":0,"title":["Percentage of Dataset Below","FC - Ic Corralatioin"],"titleFontSize":18,"titleLineHeight":19,"titlePadding":-8,"grid":true}},
       "color":{"field":"depth","type":"nominal","scale":{"domain":["0 to 5m","5 to 10m","All"],"range":["#3d8fd4","#f8bb1f","#000000"]},"legend":null},
       "strokeWidth":{"field":"depth","type":"nominal","scale":{"domain":["0 to 5m","5 to 10m","All"],"range":[3,3.5,5]},"legend":null}}},
     {"data":{"name":"c_arrows"},"mark":{"type":"rule","color":"#222","strokeWidth":1},
      "encoding":{"x":{"field":"cfc","type":"quantitative","scale":{"domain":[-0.3,0.3],"nice":false,"zero":false},"axis":null},"x2":{"field":"cfc2"},"y":{"field":"pct","type":"quantitative","scale":{"domain":[0,100],"nice":false,"zero":false},"axis":null},"y2":{"field":"pct2"}}},
     {"data":{"name":"c_arrows"},"mark":{"type":"point","shape":"wedge","filled":true,"size":50,"color":"#111","opacity":1},
      "encoding":{"x":{"field":"cfc2","type":"quantitative","scale":{"domain":[-0.3,0.3],"nice":false,"zero":false},"axis":null},"y":{"field":"pct2","type":"quantitative","scale":{"domain":[0,100],"nice":false,"zero":false},"axis":null},"angle":{"field":"angle","type":"quantitative","scale":null}}},
     {"data":{"name":"c_notes"},"mark":{"type":"text","font":"Lato","fontSize":14,"align":"center","baseline":"middle","color":"#222"},
      "encoding":{"x":{"field":"cfc","type":"quantitative","scale":{"domain":[-0.3,0.3],"nice":false,"zero":false},"axis":null},"y":{"field":"pct","type":"quantitative","scale":{"domain":[0,100],"nice":false,"zero":false},"axis":null},"text":{"field":"text"}}},
     {"data":{"name":"c_sub"},"mark":{"type":"text","font":"Lato","fontStyle":"italic","fontSize":10,"align":"left","baseline":"middle","color":"#111"},
      "encoding":{"x":{"field":"cfc","type":"quantitative","scale":{"domain":[-0.3,0.3],"nice":false,"zero":false},"axis":null},"y":{"field":"pct","type":"quantitative","scale":{"domain":[0,100],"nice":false,"zero":false},"axis":null},"text":{"field":"text"}}}
    ]},
   {"layer":[
     {"data":{"name":"frames"},"transform":[{"filter":"datum.panel == 'c'"}],"mark":{"type":"rule","color":"#111","strokeWidth":2},
      "encoding":{"x":{"field":"x","type":"quantitative","scale":{"domain":[0,100],"range":[-66,513],"nice":false},"axis":null},"y":{"field":"y","type":"quantitative","scale":{"domain":[0,100],"range":[-12,319],"nice":false},"axis":null},"x2":{"field":"x2"},"y2":{"field":"y2"}}},
     {"data":{"name":"tags"},"transform":[{"filter":"datum.panel == 'c'"}],"mark":{"type":"text","font":"Lato","fontStyle":"italic","fontSize":21,"align":"left","baseline":"middle","color":"#111"},
      "encoding":{"x":{"field":"x","type":"quantitative","scale":{"domain":[0,100],"range":[-66,513],"nice":false},"axis":null},"y":{"field":"y","type":"quantitative","scale":{"domain":[0,100],"range":[-12,319],"nice":false},"axis":null},"text":{"field":"text"}}}
   ]}
  ]}
]}
]
}
